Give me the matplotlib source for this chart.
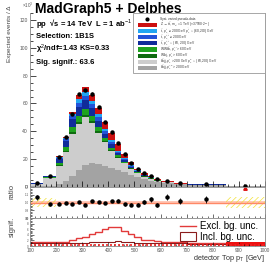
import numpy as np
import matplotlib
matplotlib.use("Agg")
import matplotlib.pyplot as plt
from matplotlib.patches import Patch, Rectangle
from matplotlib.lines import Line2D
from matplotlib.ticker import MultipleLocator

plt.rcParams['font.family'] = ['Liberation Sans', 'DejaVu Sans']
plt.rcParams['mathtext.fontset'] = 'custom'
plt.rcParams['mathtext.rm'] = 'Liberation Sans'
plt.rcParams['mathtext.it'] = 'Liberation Sans:italic'
plt.rcParams['mathtext.bf'] = 'Liberation Sans:bold'
plt.rcParams['hatch.linewidth'] = 0.5

W, H = 274, 267

# bin edges [GeV]
edges = [100, 150, 200, 225, 250, 275, 300, 325, 350, 375, 400, 425, 450,
         475, 500, 525, 550, 575, 600, 650, 700, 850, 1000]

# stacked backgrounds (x10^3 events), bottom -> top
bbjj_hi = [0.4, 0.8, 2, 4.5, 8, 12, 15.5, 17, 16.5, 15, 13.5, 12, 10.5, 8.5, 7, 5.5, 4.4, 3.5, 3.0, 1.8, 1.5, 0.45]
bbjj_mix = [1.6, 5.7, 13, 20.5, 30, 33, 34.5, 29, 22.5, 17, 12.5, 9, 6.5, 4.5, 3.0, 2.0, 1.4, 0.9, 0.5, 0.3, 0.2, 0.05]
wtbj = [0.1, 0.2, 0.7, 1.0, 1.5, 1.8, 1.8, 1.5, 1.2, 0.9, 0.7, 0.5, 0.4, 0.3, 0.2, 0.15, 0.12, 0.1, 0.06, 0.03, 0.02, 0.01]
wwbb = [0.2, 0.4, 1.8, 2.5, 3.5, 4.2, 4.2, 3.5, 2.8, 2.1, 1.6, 1.3, 0.9, 0.7, 0.5, 0.35, 0.28, 0.2, 0.14, 0.07, 0.03, 0.01]
tt_low = [0.5, 0.6, 2.8, 4.2, 5.5, 6.5, 6.5, 5.5, 4.5, 3.2, 2.4, 1.3, 0.9, 0.6, 0.5, 0.4, 0.3, 0.2, 0.07, 0.08, 0.05, 0.02]
tt_high = [0.1, 0.15, 0.8, 1.5, 2.2, 3.0, 3.2, 3.0, 2.7, 2.0, 1.7, 1.0, 0.7, 0.5, 0.4, 0.3, 0.25, 0.17, 0.07, 0.09, 0.05, 0.02]
tt_mix = [0.1, 0.15, 0.7, 1.3, 1.8, 2.5, 2.8, 2.5, 2.3, 1.8, 1.6, 0.9, 0.6, 0.4, 0.35, 0.25, 0.2, 0.15, 0.06, 0.08, 0.05, 0.01]
zprime = [0, 0, 0.2, 0.5, 1.5, 3, 3.5, 4, 4.5, 5, 5, 5, 3.5, 2.5, 1.1, 1.0, 0.6, 0.4, 0.3, 0.15, 0.1, 0.03]

# pseudo-data
data = [3.2, 7.82, 21.7, 35.86, 52.8, 66.6, 69.55, 67.1, 57.5, 46.8, 39.7, 31.8, 23.5,
        17.5, 12.7, 10.05, 7.85, 5.43, 4.5, 2.64, 2.08, 0.81]
rel_err = [0.03, 0.02, 0.02, 0.015, 0.012, 0.012, 0.012, 0.012, 0.012, 0.014, 0.015, 0.016,
           0.018, 0.02, 0.022, 0.024, 0.028, 0.03, 0.035, 0.04, 0.04, 0.05]

# significance per bin
sig_excl = [1.5, 1.5, 1.5, 1.5, 2.1, 2.9, 3.2, 4.2, 5.1, 6.0, 6.7, 6.7, 5.5, 4.2, 3.1, 2.1, 2.0, 1.9, 1.5, 1.5, 1.2, 0.0]
sig_incl = [0.9, 0.9, 0.9, 0.9, 0.9, 0.9, 0.9, 1.5, 1.5, 1.5, 1.5, 1.8, 1.5, 1.3, 1.2, 1.1, 1.0, 1.0, 1.0, 0.9, 0.8, 0.0]

layers = [
    (bbjj_hi, '#a3a3a3', r'b$\bar{\rm b}$jj, $p_{\rm T}^{j,b}$ > 200 GeV'),
    (bbjj_mix, '#cdcdcd', r'b$\bar{\rm b}$jj, $p_{\rm T}^{j}$ > 200 GeV $p_{\rm T}^{b}$ $\in$ (60,200) GeV'),
    (wtbj, '#0f6b10', r'Wtbj, $p_{\rm T}^{j}$ > 60 GeV'),
    (wwbb, '#1fa31f', r'WWb$\bar{\rm b}$, $p_{\rm T}^{j,l}$ > 60 GeV'),
    (tt_low, '#102c9a', r't$\bar{\rm t}$, $p_{\rm T}^{t,\bar{t}}$ $\in$ (60, 200) GeV'),
    (tt_high, '#2352d8', r't$\bar{\rm t}$, $p_{\rm T}^{t,\bar{t}}$ $\geq$ 200 GeV'),
    (tt_mix, '#22a6f2', r't$\bar{\rm t}$, $p_{\rm T}^{t}$ $\geq$ 200 GeV $p_{\rm T}^{\bar{t}}$ $\in$ (60,200) GeV'),
    (zprime, '#cc1010', r"Z'$\rightarrow$ t$\bar{\rm t}$, m$_{Z'}$ = 1 TeV (×37500·2$^{-1}$)"),
]

edges = np.array(edges, dtype=float)
left = edges[:-1]
width = np.diff(edges)
centers = left + width / 2
data = np.array(data)
rel_err = np.array(rel_err)


def fx(x):
    return x / W


def fy(y):
    return 1 - y / H


fig = plt.figure(figsize=(W / 100, H / 100), dpi=100)
ax = fig.add_axes([fx(30), fy(187), fx(235), 174 / H])
axr = fig.add_axes([fx(30), fy(218), fx(235), 31 / H], sharex=ax)
axs = fig.add_axes([fx(30), fy(246), fx(235), 28 / H], sharex=ax)

bottom = np.zeros(len(left))
for vals, col, lab in layers:
    ax.bar(left, vals, width=width, bottom=bottom, align='edge', color=col, linewidth=0)
    bottom = bottom + np.array(vals)
total = bottom

ax.errorbar(centers, data, yerr=data * rel_err, fmt='o', color='black', ms=2.2,
            elinewidth=0.6, capsize=0)

ax.set_xlim(100, 1000)
ax.set_ylim(0, 125)
ax.xaxis.set_major_locator(MultipleLocator(100))
ax.xaxis.set_minor_locator(MultipleLocator(20))
ax.yaxis.set_major_locator(MultipleLocator(20))
ax.yaxis.set_minor_locator(MultipleLocator(5))
ax.tick_params(axis='both', which='both', direction='in', colors='black',
               labelcolor='#555555', labelsize=3.6, width=0.5, pad=1.5)
ax.tick_params(which='major', length=4)
ax.tick_params(which='minor', length=2)
ax.tick_params(axis='x', labelbottom=False)
ax.spines['top'].set_visible(False)
for s in ['left', 'right', 'bottom']:
    ax.spines[s].set_color('#888888')
    ax.spines[s].set_linewidth(0.6)

# legend of the main panel, laid out row by row
fig.patches.append(Rectangle((fx(133), fy(73)), fx(132), 60 / H, transform=fig.transFigure,
                             facecolor='white', edgecolor='#999999', lw=0.6, zorder=5))
rows_y = [19 + 6.1 * i for i in range(9)]
entries = [(None, 'Syst. varied pseudo-data')] + [(col, lab) for vals, col, lab in layers[::-1]]
for yy, (col, lab) in zip(rows_y, entries):
    if col is None:
        fig.lines.append(Line2D([fx(147)], [fy(yy)], marker='o', ms=2, color='black',
                                transform=fig.transFigure, zorder=6))
    else:
        fig.patches.append(Rectangle((fx(138), fy(yy + 2)), fx(19), 4 / H,
                                     transform=fig.transFigure, facecolor=col, lw=0, zorder=6))
    fig.text(fx(160), fy(yy), lab, fontsize=2.3, va='center', color='#333333', zorder=7)

# ratio panel
ratio = data / total
axr.fill_between(edges, 0.985, 1.015, color='#ffc8b8', lw=0)
axr.axhline(1.0, color='#ff8866', lw=1.0)
for i0, i1, half in [(0, 2, 0.06), (21, 22, 0.065)]:
    axr.fill_between([edges[i0], edges[i1]], 1 - half, 1 + half, facecolor='none',
                     edgecolor='#f2e23a', hatch='//////', lw=0)
inr = ratio < 1.2
axr.errorbar(centers[inr], ratio[inr], yerr=rel_err[inr], fmt='o', color='black', ms=2.2,
             elinewidth=0.6, capsize=0)
axr.plot(centers[~inr], [1.185] * int((~inr).sum()), marker='^', color='#dd1111', ms=2.5, lw=0)
axr.set_ylim(0.8, 1.2)
axr.yaxis.set_major_locator(MultipleLocator(0.1))
axr.yaxis.set_minor_locator(MultipleLocator(0.02))
axr.xaxis.set_minor_locator(MultipleLocator(20))
axr.tick_params(axis='both', which='both', direction='in', labelcolor='#555555',
                labelsize=2.2, width=0.4, pad=1)
axr.tick_params(which='major', length=3)
axr.tick_params(which='minor', length=1.5)
axr.tick_params(axis='x', labelbottom=False)
for s in axr.spines.values():
    s.set_color('#888888')
    s.set_linewidth(0.6)

# significance panel
axs.stairs(sig_excl, edges, color='#e23a3a', lw=1.0)
axs.stairs(sig_incl, edges, color='#8a1c1c', lw=0.8)
axs.plot([100, 1000], [0.35, 0.35], color='#ee2222', lw=1.2, dashes=(1.2, 1.2))
axs.bar(left[-1], 1.3, width=width[-1], align='edge', color='#ee1111', lw=0)
axs.set_ylim(0, 10)
axs.yaxis.set_major_locator(MultipleLocator(2))
axs.yaxis.set_minor_locator(MultipleLocator(0.5))
axs.xaxis.set_minor_locator(MultipleLocator(20))
axs.tick_params(axis='both', which='both', direction='in', labelcolor='#555555',
                labelsize=2.2, width=0.4, pad=1)
axs.tick_params(axis='x', labelsize=3.4, pad=1.5)
axs.tick_params(which='major', length=3)
axs.tick_params(which='minor', length=1.5)
for s in axs.spines.values():
    s.set_color('#888888')
    s.set_linewidth(0.6)
sl = axs.legend([Line2D([], [], color='#e23a3a', lw=1.0),
                 Patch(facecolor='none', edgecolor='#8a1c1c', lw=0.8)],
                ['Excl. bg. unc.', 'Incl. bg. unc.'],
                loc='upper left', bbox_to_anchor=(0.64, 0.88), fontsize=7,
                frameon=False, handlelength=1.6, handleheight=0.9, labelspacing=0.05,
                handletextpad=0.4, borderaxespad=0, borderpad=0)

# texts
fig.text(fx(35), fy(9), 'MadGraph5 + Delphes', fontsize=10, fontweight='bold', va='center')
fig.text(fx(22), fy(5), '×10$^{3}$', fontsize=3.3, color='#555555', va='center')
fig.text(fx(36), fy(24), 'pp  √s = 14 TeV  L = 1 ab$^{-1}$', fontsize=5.5, fontweight='bold', va='center')
fig.text(fx(36), fy(36), 'Selection: 1B1S', fontsize=5.5, fontweight='bold', va='center')
fig.text(fx(36), fy(49), 'χ$^{2}$/ndf=1.43 KS=0.33', fontsize=5.5, fontweight='bold', va='center')
fig.text(fx(36), fy(62), 'Sig. signif.: 63.6', fontsize=5.5, fontweight='bold', va='center')
fig.text(fx(10), fy(6), 'Expected events / Δ', fontsize=4.6, rotation=90, ha='center', va='top', color='#444444')
fig.text(fx(12), fy(184), 'ratio', fontsize=5.5, rotation=90, ha='center', va='top', color='#444444')
fig.text(fx(12), fy(217), 'signif.', fontsize=5.5, rotation=90, ha='center', va='top', color='#444444')
fig.text(fx(265), fy(258), 'detector Top p$_{\\rm T}$ [GeV]', fontsize=5.2, ha='right', va='center', color='#333333')

fig.savefig('out.png', dpi=100)
